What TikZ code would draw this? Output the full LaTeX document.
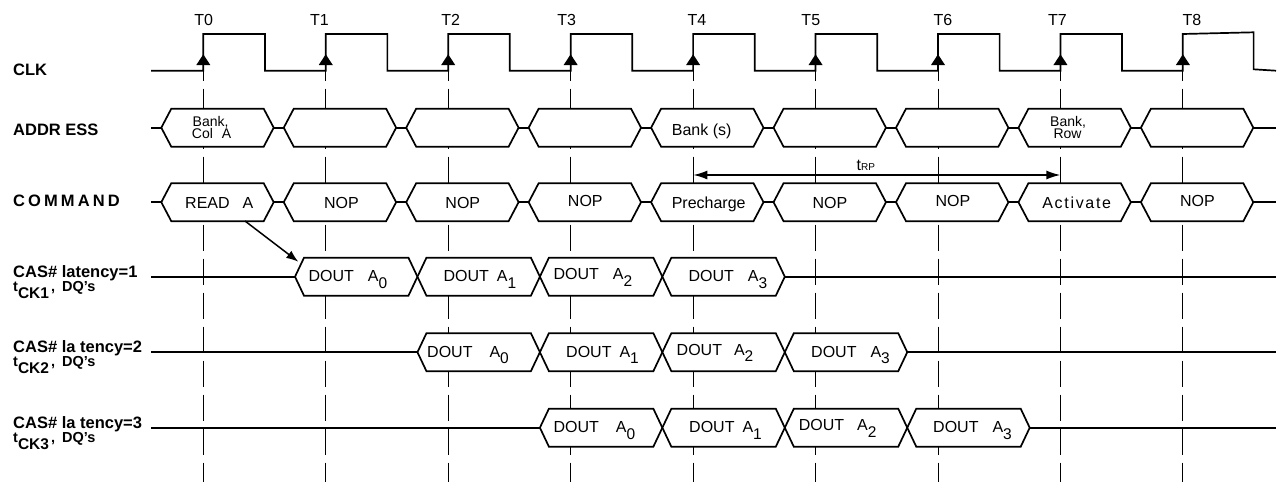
\documentclass[tikz,border=0pt]{standalone}
\usepackage{fontspec}
\setmainfont{Liberation Sans}
\usetikzlibrary{arrows.meta}
\newcommand\hexbox[5]{%
  \filldraw[wave,fill=white] (#1,#3) -- ({#1+#5},{#3-#4}) -- ({#2-#5},{#3-#4}) -- (#2,#3) -- ({#2-#5},{#3+#4}) -- ({#1+#5},{#3+#4}) -- cycle;}
\newcommand\sbx[1]{\raisebox{-6.5pt}{\fontsize{15.5}{16}\selectfont #1}}
\def\clkper{122.45}
\def\clkzero{203.3}
\begin{document}
\begin{tikzpicture}[x=1pt,y=-1pt,
  wave/.style={line width=1.7pt, line join=miter},
  gridline/.style={line width=0.9pt, dash pattern=on 26pt off 8pt, dash phase=16pt},
  lbl/.style={font=\fontsize{16.5}{18}\selectfont\bfseries, anchor=base west, inner sep=0pt},
  lbls/.style={font=\fontsize{14.5}{16}\selectfont\bfseries, anchor=base west, inner sep=0pt},
  txt/.style={font=\fontsize{16}{18}\selectfont, anchor=base west, inner sep=0pt},
  txtc/.style={font=\fontsize{16}{18}\selectfont, anchor=base, inner sep=0pt},
  small/.style={font=\fontsize{14}{15}\selectfont, anchor=base west, inner sep=0pt},
  arr/.style={-{Latex[length=12pt,width=9pt]}, line width=1.5pt},
  darr/.style={{Latex[length=14pt,width=9pt]}-{Latex[length=14pt,width=9pt]}, line width=1.7pt}]
\useasboundingbox (0,0) rectangle (1279,482);
\fill[white] (0,0) rectangle (1279,482);

% dashed clock reference lines
\foreach \k in {0,...,8} {
  \draw[gridline] ({\clkzero+\k*\clkper},70.7) coordinate (gt\k) -- ({\clkzero+\k*\clkper},482) coordinate (gb\k);
}

% clock labels
\foreach \k/\x in {0/203.8,1/319.5,2/450.8,3/566.7,4/697,5/810.8,6/943,7/1057.5,8/1192} {
  \node[txtc] (T\k) at (\x,25) {T\k};
}

% clock waveform
\draw[wave] (151,70.7) \foreach \k in {0,...,7} { -- ({\clkzero+\k*\clkper},70.7) -- ({\clkzero+\k*\clkper},34) -- ({\clkzero+61.6+\k*\clkper},34) -- ({\clkzero+61.6+\k*\clkper},70.7) } -- (1182.7,70.7) -- (1182.7,34) -- (1253.6,32.3) -- (1253.6,69.3) -- (1276,70.7);
\foreach \k in {0,...,8} {
  \fill ({\clkzero+\k*\clkper},54.3) -- ({\clkzero+\k*\clkper-7},65) -- ({\clkzero+\k*\clkper+7},65) -- cycle;
}

% address and command rows
\foreach \yc in {127.7,202.2} {
  \draw[wave] (151,\yc) -- (1276,\yc);
  \foreach \k in {0,...,8} {
    \pgfmathsetmacro\xl{161.3+\k*\clkper}
    \pgfmathsetmacro\xr{\xl+112.4}
    \hexbox{\xl}{\xr}{\yc}{19}{10}
  }
}

% data rows
\foreach \L in {1,2,3} {
  \pgfmathsetmacro\yc{276.7+(\L-1)*75.5}
  \draw[wave] (151,\yc) -- (1276,\yc);
  \pgfmathtruncatemacro\js{\L-1}
  \pgfmathtruncatemacro\je{\L+2}
  \foreach \j in {\js,...,\je} {
    \pgfmathsetmacro\xl{295+\j*\clkper}
    \pgfmathsetmacro\xr{\xl+\clkper}
    \hexbox{\xl}{\xr}{\yc}{19}{9}
  }
}

% left labels
\node[lbl] (lclk) at (13,75) {CLK};
\node[lbl] (laddr) at (13,135.5) {ADDR ESS};
\node[lbl] (lcmd) at (13,206.7) {C\kern3.1pt O\kern3.1pt M\kern3.1pt M\kern3.1pt A\kern3.1pt N\kern3.1pt D};
\node[lbl] (lc1) at (13,277) {CAS\# latency=1};
\node[lbls] (lt1) at (13,291) {t\raisebox{-7pt}{\fontsize{15.5}{16}\selectfont CK1}\hspace{2pt},\hspace{7pt}DQ's};
\node[lbl] (lc2) at (13,352.5) {CAS\# la tency=2};
\node[lbls] (lt2) at (13,366.5) {t\raisebox{-7pt}{\fontsize{15.5}{16}\selectfont CK2}\hspace{2pt},\hspace{7pt}DQ's};
\node[lbl] (lc3) at (13,428) {CAS\# la tency=3};
\node[lbls] (lt3) at (13,442) {t\raisebox{-7pt}{\fontsize{15.5}{16}\selectfont CK3}\hspace{2pt},\hspace{7pt}DQ's};

% address texts
\node[small] (a0a) at (192.5,126) {Bank,};
\node[small] (a0b) at (191.7,138.3) {Col\hspace{9pt}A};
\node[txt] (a4) at (671.7,135) {Bank (s)};
\node[small] (a7a) at (1050,126) {Bank,};
\node[small] (a7b) at (1053.3,138.3) {Row};

% command texts
\node[txt] (c0) at (185,208.2) {READ\hspace{13pt}A};
\node[txtc] (c1) at (341.5,208.2) {NOP};
\node[txtc] (c2) at (462.8,208.2) {NOP};
\node[txtc] (c3) at (585.3,206.5) {NOP};
\node[txtc] (c4) at (708.7,208.2) {Precharge};
\node[txtc] (c5) at (830,208.2) {NOP};
\node[txtc] (c6) at (953,206.5) {NOP};
\node[txtc] (c7) at (1076.7,208.2) {A\kern1.7pt c\kern1.7pt t\kern1.7pt i\kern1.7pt v\kern1.7pt a\kern1.7pt t\kern1.7pt e};
\node[txtc] (c8) at (1197.5,206.5) {NOP};

% data texts, latency 1
\node[txt] (d10) at (308.3,281.7) {DOUT\hspace{14pt}A\sbx{0}};
\node[txt] (d11) at (443.3,281.7) {DOUT\hspace{8pt}A\sbx{1}};
\node[txt] (d12) at (553.3,279.7) {DOUT\hspace{14pt}A\sbx{2}};
\node[txt] (d13) at (688.3,281.7) {DOUT\hspace{14pt}A\sbx{3}};
% latency 2
\node[txt] (d20) at (427,357.2) {DOUT\hspace{17pt}A\sbx{0}};
\node[txt] (d21) at (566,357.2) {DOUT\hspace{8pt}A\sbx{1}};
\node[txt] (d22) at (676.5,355.2) {DOUT\hspace{12pt}A\sbx{2}};
\node[txt] (d23) at (811,357.2) {DOUT\hspace{14pt}A\sbx{3}};
% latency 3
\node[txt] (d30) at (553.4,432.7) {DOUT\hspace{17pt}A\sbx{0}};
\node[txt] (d31) at (689,432.7) {DOUT\hspace{8pt}A\sbx{1}};
\node[txt] (d32) at (798.6,430.7) {DOUT\hspace{13pt}A\sbx{2}};
\node[txt] (d33) at (933,432.7) {DOUT\hspace{14pt}A\sbx{3}};

% READ -> DOUT arrow
\coordinate (rdA) at (245,221);
\coordinate (rdB) at (298.3,261.7);
\draw[arr] (rdA) -- (rdB);

% tRP
\coordinate (rpL) at (693.3,175);
\coordinate (rpR) at (1060.4,175);
\draw[darr] (rpL) -- (rpR);
\node[txt] (trp) at (856.5,170) {t{\fontsize{10}{10}\selectfont RP}};
\end{tikzpicture}
\end{document}
